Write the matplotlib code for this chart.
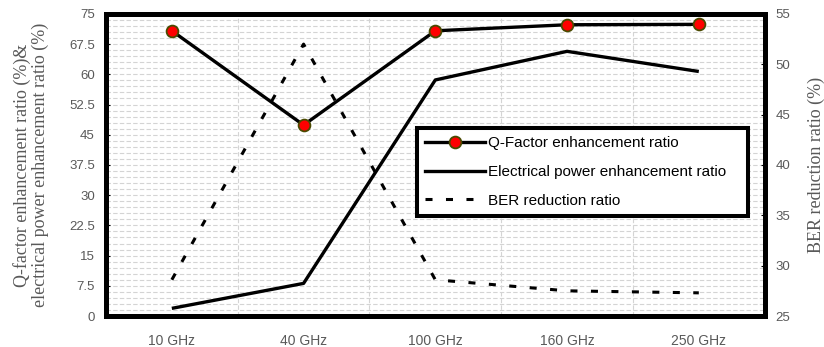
import matplotlib
matplotlib.use("Agg")
import matplotlib.pyplot as plt
import numpy as np
from matplotlib.lines import Line2D

# data
freqs = ["10 GHz", "40 GHz", "100 GHz", "160 GHz", "250 GHz"]
q_factor = [70.8, 47.4, 70.8, 72.3, 72.4]
elec_power = [1.9, 8.1, 58.6, 65.7, 60.7]
ber_reduction = [28.6, 52.0, 28.6, 27.5, 27.3]

left_ticks = np.arange(0, 75.1, 7.5)
right_ticks = np.arange(25, 55.1, 5)

sans = ["Liberation Sans", "DejaVu Sans"]
serif = ["Liberation Serif", "DejaVu Serif"]
grey = "#595959"

fig = plt.figure(figsize=(8.24, 3.47), dpi=100)
ax = fig.add_axes([0.1286, 0.0893, 0.7994, 0.8707])
ax2 = ax.twinx()

x = np.arange(len(freqs))

# grid
grid_kw = dict(color="#d4d4d4", lw=0.8, linestyle=(0, (4, 2)))
for v in np.arange(0, 75.1, 1.5):
    ax.axhline(v, zorder=0, **grid_kw)
for v in x[:-1] + 0.5:
    ax.axvline(v, zorder=0, **grid_kw)

ax.plot(x, elec_power, color="black", lw=2.4, solid_capstyle="butt", zorder=3)
ax.plot(x, q_factor, color="black", lw=2.4, marker="o", markersize=8.5,
        markerfacecolor="red", markeredgecolor="#4a4a00", markeredgewidth=1.3, zorder=4)
ax2.plot(x, ber_reduction, color="black", lw=2.2, linestyle=(0, (2.3, 4.4)), zorder=3)

ax.set_xlim(-0.5, len(freqs) - 0.5)
ax.set_ylim(0, 75)
ax2.set_ylim(25, 55)
ax.set_xticks(x)
ax.set_xticklabels(freqs, fontfamily=sans, fontsize=10, color=grey)
ax.set_yticks(left_ticks)
ax.set_yticklabels([f"{t:g}" for t in left_ticks], fontfamily=sans, fontsize=9.5, color=grey)
ax2.set_yticks(right_ticks)
ax2.set_yticklabels([f"{t:g}" for t in right_ticks], fontfamily=sans, fontsize=9.5, color=grey)

ax.tick_params(axis="x", length=0, pad=13)
ax.tick_params(axis="y", length=3, direction="in", pad=8)
ax2.tick_params(axis="y", length=3, direction="in", pad=8)

ax.set_ylabel("Q-factor enhancement ratio (%)&\nelectrical power enhancement ratio (%)",
              fontfamily=serif, fontsize=13, color=grey, linespacing=1.0)
ax.yaxis.set_label_coords(-0.087, 0.5)
ax2.set_ylabel("BER reduction ratio (%)", fontfamily=serif, fontsize=13, color=grey, labelpad=12)

for a in (ax, ax2):
    for s in a.spines.values():
        s.set_linewidth(3.6)
        s.set_color("black")

handles = [
    Line2D([], [], color="black", lw=2.4, marker="o", markersize=8.5,
           markerfacecolor="red", markeredgecolor="#4a4a00", markeredgewidth=1.3),
    Line2D([], [], color="black", lw=2.4),
    Line2D([], [], color="black", lw=2.2, linestyle=(0, (2.3, 4.4))),
]
labels = ["Q-Factor enhancement ratio", "Electrical power enhancement ratio", "BER reduction ratio"]
leg = ax2.legend(handles, labels, loc="upper left", bbox_to_anchor=(0.472, 0.623, 0.502, 0.0),
                 mode="expand", prop={"family": sans, "size": 11}, frameon=True, fancybox=False,
                 framealpha=1, edgecolor="black", handlelength=3.9, handletextpad=0.2,
                 labelspacing=0.97, borderpad=0.55, borderaxespad=0)
leg.get_frame().set_linewidth(2.9)

fig.savefig("out.png", dpi=100)
